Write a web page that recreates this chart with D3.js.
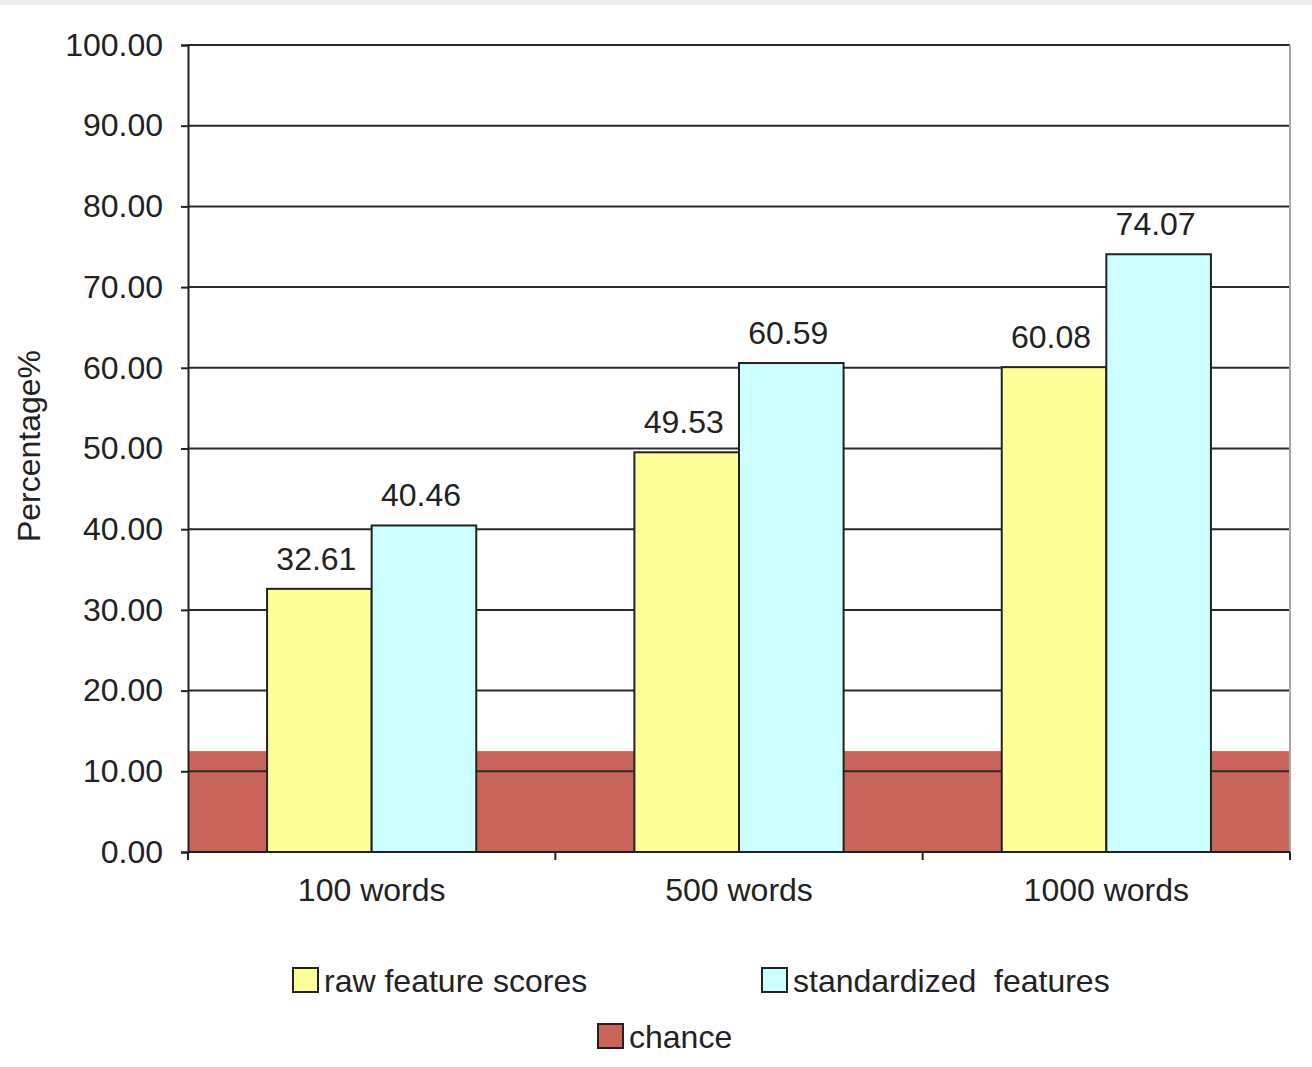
<!DOCTYPE html>
<html>
<head>
<meta charset="utf-8">
<script src="https://cdn.jsdelivr.net/npm/d3@7"></script>
<style>
  html, body { margin: 0; padding: 0; background: #fff; }
  svg { display: block; font-family: "Liberation Sans", Arial, sans-serif; }
</style>
</head>
<body>
<svg id="chart" width="1312" height="1067"></svg>
<script>
// Accuracy by text length for two feature sets, plus the chance level
const categories = ["100 words", "500 words", "1000 words"];
const seriesNames = ["raw feature scores", "standardized  features"];
const rawScores = [32.61, 49.53, 60.08];
const standardizedScores = [40.46, 60.59, 74.07];
const chanceLevel = 12.5;
const yTicks = [0, 10, 20, 30, 40, 50, 60, 70, 80, 90, 100];

const colors = {
  raw: "#ffff99",
  std: "#ccffff",
  chance: "#c8645a",
  ink: "#222"
};

const svg = d3.select("#chart");
const plot = { left: 188, right: 1290, top: 45, bottom: 852 };

// thin grey strip along the top edge
svg.append("rect").attr("x", 0).attr("y", 0).attr("width", 1312).attr("height", 5).attr("fill", "#eeeeee");

const y = d3.scaleLinear().domain([0, 100]).range([plot.bottom, plot.top]);
const x = d3.scaleBand().domain(categories).range([plot.left, plot.right]).padding(0);
const xSub = d3.scaleBand().domain(seriesNames).range([0, x.bandwidth()])
  .paddingInner(0).paddingOuter(0.756);

// chance level drawn as a filled band across the whole plot
svg.append("rect")
  .attr("x", plot.left)
  .attr("y", y(chanceLevel))
  .attr("width", plot.right - plot.left)
  .attr("height", y(0) - y(chanceLevel))
  .attr("fill", colors.chance);

// horizontal gridlines
svg.append("g").selectAll("line")
  .data(yTicks.filter(d => d > 0))
  .join("line")
  .attr("x1", plot.left).attr("x2", plot.right)
  .attr("y1", d => y(d)).attr("y2", d => y(d))
  .attr("stroke", "#2a2a2a").attr("stroke-width", 2);

// right border
svg.append("line")
  .attr("x1", plot.right).attr("x2", plot.right)
  .attr("y1", plot.top).attr("y2", plot.bottom)
  .attr("stroke", "#a8a8a8").attr("stroke-width", 2);

// bars
const rows = categories.map((c, i) => ({ cat: c, values: [rawScores[i], standardizedScores[i]] }));
const fills = [colors.raw, colors.std];

const groups = svg.append("g").selectAll("g")
  .data(rows)
  .join("g")
  .attr("transform", d => `translate(${x(d.cat)},0)`);

groups.selectAll("rect")
  .data(d => d.values.map((v, j) => ({ name: seriesNames[j], v, j })))
  .join("rect")
  .attr("x", d => xSub(d.name))
  .attr("y", d => y(d.v))
  .attr("width", xSub.bandwidth())
  .attr("height", d => y(0) - y(d.v))
  .attr("fill", d => fills[d.j])
  .attr("stroke", colors.ink)
  .attr("stroke-width", 2);

groups.selectAll("text")
  .data(d => d.values.map((v, j) => ({ name: seriesNames[j], v })))
  .join("text")
  .attr("x", d => xSub(d.name) + xSub.bandwidth() / 2 - 3)
  .attr("y", d => y(d.v) - 19)
  .attr("text-anchor", "middle")
  .attr("font-size", 32)
  .attr("fill", colors.ink)
  .text(d => d.v.toFixed(2));

// y axis
const yAxis = d3.axisLeft(y).tickValues(yTicks).tickFormat(d3.format(".2f")).tickSize(7).tickPadding(18);
const gy = svg.append("g").attr("transform", `translate(${plot.left},0)`).call(yAxis);
gy.select(".domain").attr("stroke", colors.ink).attr("stroke-width", 2);
gy.selectAll(".tick line").attr("stroke", colors.ink).attr("stroke-width", 2);
gy.selectAll(".tick text").attr("font-size", 32).attr("fill", colors.ink)
  .attr("font-family", "Liberation Sans, Arial, sans-serif");

// x axis: category labels with ticks on group boundaries
const xAxis = d3.axisBottom(x).tickSize(0).tickPadding(26);
const gx = svg.append("g").attr("transform", `translate(0,${plot.bottom})`).call(xAxis);
gx.select(".domain").remove();
gx.selectAll(".tick text").attr("font-size", 32).attr("fill", colors.ink)
  .attr("font-family", "Liberation Sans, Arial, sans-serif");

svg.append("line")
  .attr("x1", plot.left).attr("x2", plot.right)
  .attr("y1", plot.bottom).attr("y2", plot.bottom)
  .attr("stroke", colors.ink).attr("stroke-width", 2);

const boundaries = [plot.left].concat(categories.map(c => x(c) + x.bandwidth()));
svg.append("g").selectAll("line")
  .data(boundaries)
  .join("line")
  .attr("x1", d => d).attr("x2", d => d)
  .attr("y1", plot.bottom).attr("y2", plot.bottom + 8)
  .attr("stroke", colors.ink).attr("stroke-width", 2);

// y axis title
svg.append("text")
  .attr("transform", "translate(40,446) rotate(-90)")
  .attr("text-anchor", "middle")
  .attr("font-size", 32)
  .attr("fill", colors.ink)
  .text("Percentage%");

// legend
const legendItems = [
  { label: seriesNames[0], fill: colors.raw, x: 293, y: 968 },
  { label: seriesNames[1], fill: colors.std, x: 762, y: 968 },
  { label: "chance", fill: colors.chance, x: 598, y: 1024 }
];
const lg = svg.append("g").selectAll("g").data(legendItems).join("g")
  .attr("transform", d => `translate(${d.x},${d.y})`);
lg.append("rect")
  .attr("width", 25).attr("height", 24)
  .attr("fill", d => d.fill)
  .attr("stroke", colors.ink).attr("stroke-width", 2);
lg.append("text")
  .attr("x", 31).attr("y", 24)
  .attr("font-size", 32)
  .attr("fill", colors.ink)
  .attr("xml:space", "preserve")
  .style("white-space", "pre")
  .text(d => d.label);
</script>
</body>
</html>
